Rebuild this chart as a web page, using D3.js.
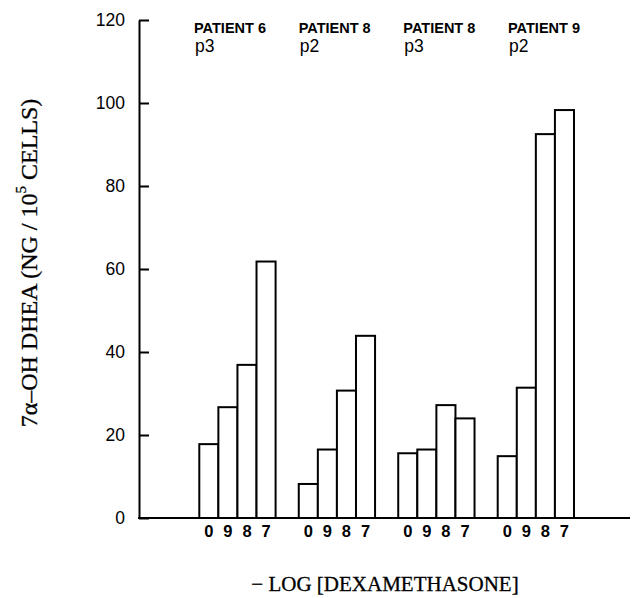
<!DOCTYPE html>
<html>
<head>
<meta charset="utf-8">
<script src="https://cdn.jsdelivr.net/npm/d3@7/dist/d3.min.js"></script>
<style>
  body { margin: 0; background: #fff; }
  svg { display: block; }
</style>
</head>
<body>
<svg id="chart" width="635" height="598"></svg>
<script>
// Cultures, dexamethasone doses and measured 7α-OH DHEA (ng / 10^5 cells)
const patients = ["PATIENT 6", "PATIENT 8", "PATIENT 8", "PATIENT 9"];
const passages = ["p3", "p2", "p3", "p2"];
const doses = ["0", "9", "8", "7"];          // − log [dexamethasone]; 0 = no steroid
const patient6p3 = [17.8, 26.7, 36.9, 61.8];
const patient8p2 = [8.2, 16.5, 30.7, 43.9];
const patient8p3 = [15.6, 16.5, 27.2, 24.0];
const patient9p2 = [14.9, 31.4, 92.5, 98.3];
const yTicks = [0, 20, 40, 60, 80, 100, 120];

const series = [patient6p3, patient8p2, patient8p3, patient9p2];
const groupIds = series.map((_, i) => i);

const svg = d3.select("#chart");
const plot = { left: 139, right: 630, top: 20, bottom: 518 };

const y = d3.scaleLinear().domain([0, 120]).range([plot.bottom, plot.top]);

const xGroup = d3.scaleBand()
  .domain(groupIds)
  .range([199.3, 574])
  .paddingInner(0.233)
  .paddingOuter(0);

const xDose = d3.scaleBand()
  .domain(doses)
  .range([0, xGroup.bandwidth()])
  .padding(0);

// header labels sit over each culture's block
const xHeader = d3.scalePoint().domain(groupIds).range([194, 508]);

// bars
const groups = svg.append("g").selectAll("g")
  .data(series)
  .join("g")
  .attr("transform", (d, i) => `translate(${xGroup(i)},0)`);

groups.selectAll("rect")
  .data(d => d.map((v, j) => ({ dose: doses[j], value: v })))
  .join("rect")
  .attr("x", d => xDose(d.dose))
  .attr("y", d => y(d.value))
  .attr("width", xDose.bandwidth())
  .attr("height", d => y(0) - y(d.value))
  .attr("fill", "#fff")
  .attr("stroke", "#000")
  .attr("stroke-width", 2);

// dose labels under each bar
groups.append("g")
  .attr("transform", `translate(0,${plot.bottom})`)
  .call(d3.axisBottom(xDose).tickSize(0).tickPadding(7))
  .call(g => g.select(".domain").remove())
  .call(g => g.selectAll("text")
    .attr("font-family", "'Liberation Sans', Arial, sans-serif")
    .attr("font-size", 16.5)
    .attr("font-weight", "bold")
    .attr("fill", "#000"));

// y axis with inward ticks
svg.append("g")
  .attr("transform", `translate(${plot.left},0)`)
  .call(d3.axisLeft(y).tickValues(yTicks).tickSizeInner(-10).tickSizeOuter(0).tickPadding(14))
  .call(g => g.select(".domain").attr("stroke-width", 2))
  .call(g => g.selectAll(".tick line").attr("stroke-width", 2))
  .call(g => g.selectAll("text")
    .attr("font-family", "'Liberation Sans', Arial, sans-serif")
    .attr("font-size", 17.5)
    .attr("fill", "#000"));

// baseline
svg.append("line")
  .attr("x1", plot.left - 1).attr("x2", plot.right)
  .attr("y1", y(0)).attr("y2", y(0))
  .attr("stroke", "#000").attr("stroke-width", 2);

// culture headers
const hdr = svg.append("g").selectAll("g")
  .data(groupIds)
  .join("g")
  .attr("transform", i => `translate(${xHeader(i)},0)`);

hdr.append("text")
  .attr("y", 33)
  .attr("font-family", "'Liberation Sans', Arial, sans-serif")
  .attr("font-size", 14.5)
  .attr("font-weight", "bold")
  .text(i => patients[i]);

hdr.append("text")
  .attr("x", 1)
  .attr("y", 52)
  .attr("font-family", "'Liberation Sans', Arial, sans-serif")
  .attr("font-size", 17.5)
  .text(i => passages[i]);

// axis titles
svg.append("text")
  .attr("x", 385)
  .attr("y", 591)
  .attr("text-anchor", "middle")
  .attr("font-family", "'Liberation Serif', 'Times New Roman', serif")
  .attr("font-size", 21)
  .attr("stroke", "#000")
  .attr("stroke-width", 0.3)
  .text("− LOG [DEXAMETHASONE]");

const yTitle = svg.append("text")
  .attr("transform", "translate(37,263) rotate(-90)")
  .attr("text-anchor", "middle")
  .attr("font-family", "'Liberation Serif', 'Times New Roman', serif")
  .attr("font-size", 24)
  .attr("stroke", "#000")
  .attr("stroke-width", 0.3);
yTitle.append("tspan").text("7α–OH DHEA (NG / 10");
yTitle.append("tspan").attr("font-size", 15).attr("dy", -11).text("5");
yTitle.append("tspan").attr("dy", 11).text(" CELLS)");
</script>
</body>
</html>
